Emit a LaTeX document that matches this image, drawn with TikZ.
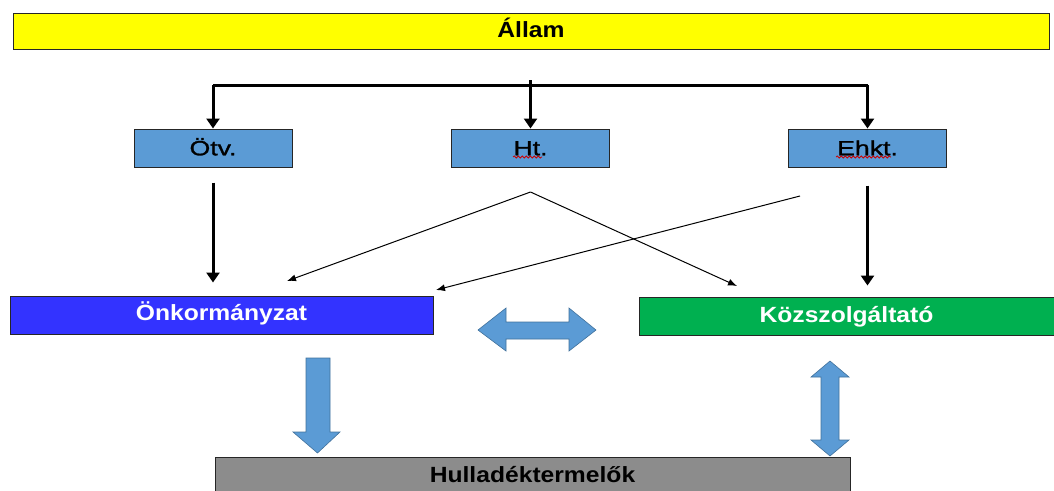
\documentclass[tikz,border=0pt]{standalone}
\usepackage{fontspec}
\setmainfont{Liberation Sans}
\newfontfamily\boxfont{Liberation Sans}[FakeStretch=1.3,FakeBold=1.4]
\newfontfamily\bigfont{Liberation Sans Bold}[FakeStretch=1.12]
\usetikzlibrary{arrows.meta,decorations.pathmorphing}
\definecolor{allamyellow}{HTML}{FFFF00}
\definecolor{lawblue}{HTML}{5B9BD5}
\definecolor{onkblue}{HTML}{3333FF}
\definecolor{kozgreen}{HTML}{00B050}
\definecolor{hullgray}{HTML}{8C8C8C}
\definecolor{arrowedge}{HTML}{41719C}
\tikzset{
  box/.style={draw=black!85, line width=1pt, inner sep=0pt, anchor=center},
  bigbox/.style={box, font=\bigfont\fontsize{22}{26}\selectfont, text height=16pt, text depth=3pt},
  lawbox/.style={box, fill=lawblue, minimum width=158pt, minimum height=38pt,
     font=\boxfont\fontsize{20.5}{24}\selectfont, text height=14.5pt, text depth=0pt},
  thick arrow/.style={line width=3pt, -{Triangle[length=10pt,width=13pt]}},
  thin arrow/.style={line width=1pt, -{Latex[length=9pt,width=7pt]}},
  blockarrow/.style={fill=lawblue, draw=arrowedge, line width=0.6pt},
  squiggle/.style={draw=red!80!black, line width=0.8pt, decorate,
     decoration={snake, segment length=4pt, amplitude=1pt}}
}
\begin{document}
\begin{tikzpicture}[x=1pt,y=-1pt]
\useasboundingbox (0,0) rectangle (1054,490);
% boxes
\node[bigbox, fill=allamyellow, minimum width=1036pt, minimum height=36pt] (allam) at (531,31) {Állam};
\node[lawbox] (otv) at (213,148) {Ötv.};
\node[lawbox] (ht) at (530.5,148) {Ht.};
\node[lawbox] (ehkt) at (867.5,148) {Ehkt.};
\node[bigbox, fill=onkblue, text=white, minimum width=423pt, minimum height=38pt, text depth=5pt] (onk) at (221.5,315) {Önkormányzat};
\node[bigbox, fill=kozgreen, text=white, minimum width=415pt, minimum height=38pt, text depth=4pt] (koz) at (846.5,316) {Közszolgáltató};
\node[bigbox, fill=hullgray, minimum width=635pt, minimum height=36pt, text depth=1pt] (hull) at (532.5,475) {Hulladéktermelők};
% spell-check marks
\draw[squiggle] (513,157) -- (542,157);
\draw[squiggle] (836,157) -- (891,157);
% tree from the state
\coordinate (treetop) at (530.5,80);
\coordinate (bar) at (530.5,85);
\draw[line width=3pt] (otv.north |- bar) -- (ehkt.north |- bar);
\draw[thick arrow] (otv.north |- bar) -- (otv.north);
\draw[thick arrow] (treetop) -- (ht.north);
\draw[thick arrow] (ehkt.north |- bar) -- (ehkt.north);
% vertical thick arrows
\draw[thick arrow, shorten <=15pt, shorten >=13pt] (otv.south) -- (otv.south |- onk.north);
\draw[thick arrow, shorten <=18pt, shorten >=11pt] (ehkt.south) -- (ehkt.south |- koz.north);
% thin arrows
\coordinate (htfoot) at (530.5,192);
\coordinate (ehktfoot) at (800,196);
\coordinate (onkin1) at (287,281);
\coordinate (onkin2) at (436,290);
\coordinate (kozin) at (737,286);
\draw[thin arrow] (htfoot) -- (onkin1);
\draw[thin arrow] (htfoot) -- (kozin);
\draw[thin arrow] (ehktfoot) -- (onkin2);
% block arrows
\draw[blockarrow] (306,358) -- (330,358) -- (330,432) -- (340,432) -- (317.5,453) -- (293,432) -- (306,432) -- cycle;
\draw[blockarrow] (478,330) -- (506,308) -- (506,322) -- (569,322) -- (569,308) -- (596,330) -- (569,351) -- (569,339) -- (506,339) -- (506,351) -- cycle;
\draw[blockarrow] (830,361) -- (849,377) -- (839,377) -- (839,440) -- (849,440) -- (830,456) -- (811,440) -- (821,440) -- (821,377) -- (811,377) -- cycle;
\end{tikzpicture}
\end{document}
